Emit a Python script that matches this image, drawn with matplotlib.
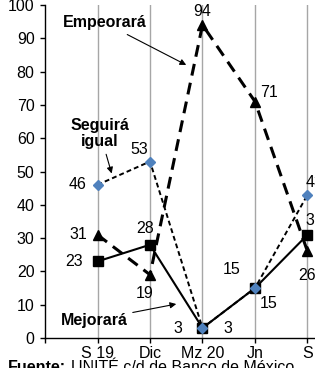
import matplotlib
matplotlib.use("Agg")
import matplotlib.pyplot as plt

plt.rcParams["font.family"] = ["Liberation Sans", "DejaVu Sans"]

categories = ["S 19", "Dic", "Mz 20", "Jn", "S"]
empeorara = [31, 19, 94, 71, 26]
seguira_igual = [46, 53, 3, 15, 43]
mejorara = [23, 28, 3, 15, 31]

fig = plt.figure(figsize=(3.15, 3.68), dpi=100)
left = 45 / 315
ax = fig.add_axes([left, 30 / 368, 1 - left, 333 / 368])

x = list(range(1, len(categories) + 1))

ax.plot(x, empeorara, color="black", lw=2.2, linestyle=(0, (3.9, 2.4)),
        marker="^", markersize=7, zorder=3)
ax.plot(x, mejorara, color="black", lw=1.5, marker="s", markersize=7, zorder=4)
ax.plot(x, seguira_igual, color="black", lw=1.4, linestyle=(0, (2.5, 1.6)),
        marker="D", markersize=5, markerfacecolor="#4F81BD",
        markeredgecolor="#4F81BD", zorder=5)

ax.set_xlim(0, 270 / 52.5)
ax.set_ylim(0, 100)
ax.set_yticks(range(0, 101, 10))
ax.set_xticks(x)
ax.set_xticklabels(categories)
ax.set_xticks([0], minor=True)
fs = 11.5
ax.tick_params(axis="both", labelsize=fs, length=3.5, width=1, color="black")
ax.tick_params(axis="y", pad=4)
ax.tick_params(axis="x", which="minor", length=3.5, width=1)
ax.tick_params(axis="x", pad=2)
ax.grid(axis="x", color="#A6A6A6", lw=1)
ax.set_axisbelow(True)
for side in ("top", "right"):
    ax.spines[side].set_visible(False)
for side in ("left", "bottom"):
    ax.spines[side].set_linewidth(1)

# data label offsets in points, one list per series
offsets = {
    "e": [[(-14, 0)], [(-4, -13.5)], [(0, 10)], [(10, 6.5)], [(0, -17)]],
    "s": [[(-14.5, 0)], [(-8, 8.5)], [], [], [(5, 8.6)]],
    "m": [[(-17, 0)], [(-3.6, 12)], [(-18, 0), (18, 0)], [(-16.5, 13), (10, -11)], [(5, 10)]],
}
for key, vals in (("e", empeorara), ("s", seguira_igual), ("m", mejorara)):
    for i, v in enumerate(vals):
        for off in offsets[key][i]:
            ax.annotate(str(v), (x[i], v), xytext=off, textcoords="offset points",
                        ha="center", va="center", fontsize=fs, annotation_clip=False)

arrow = dict(arrowstyle="-|>", color="black", lw=0.8, mutation_scale=9, shrinkA=2, shrinkB=0)
ax.annotate("Empeorará", xy=(2.69, 82), xytext=(1.14, 94.6), ha="center", va="center",
            fontsize=fs, fontweight="bold", arrowprops=arrow)
ax.annotate("Seguirá\nigual", xy=(1.27, 49.4), xytext=(1.05, 61.4), ha="center", va="center",
            fontsize=fs, fontweight="bold", linespacing=1.05, arrowprops=arrow)
ax.annotate("Mejorará", xy=(2.5, 10.2), xytext=(0.93, 5.4), ha="center", va="center",
            fontsize=fs, fontweight="bold", arrowprops=arrow)

fig.text(8 / 315, -4 / 368, "Fuente:", fontsize=fs, fontweight="bold", va="baseline")
fig.text(71 / 315, -4 / 368, "UNITÉ c/d de Banco de México", fontsize=fs, va="baseline")

fig.savefig("out.png", dpi=100)
